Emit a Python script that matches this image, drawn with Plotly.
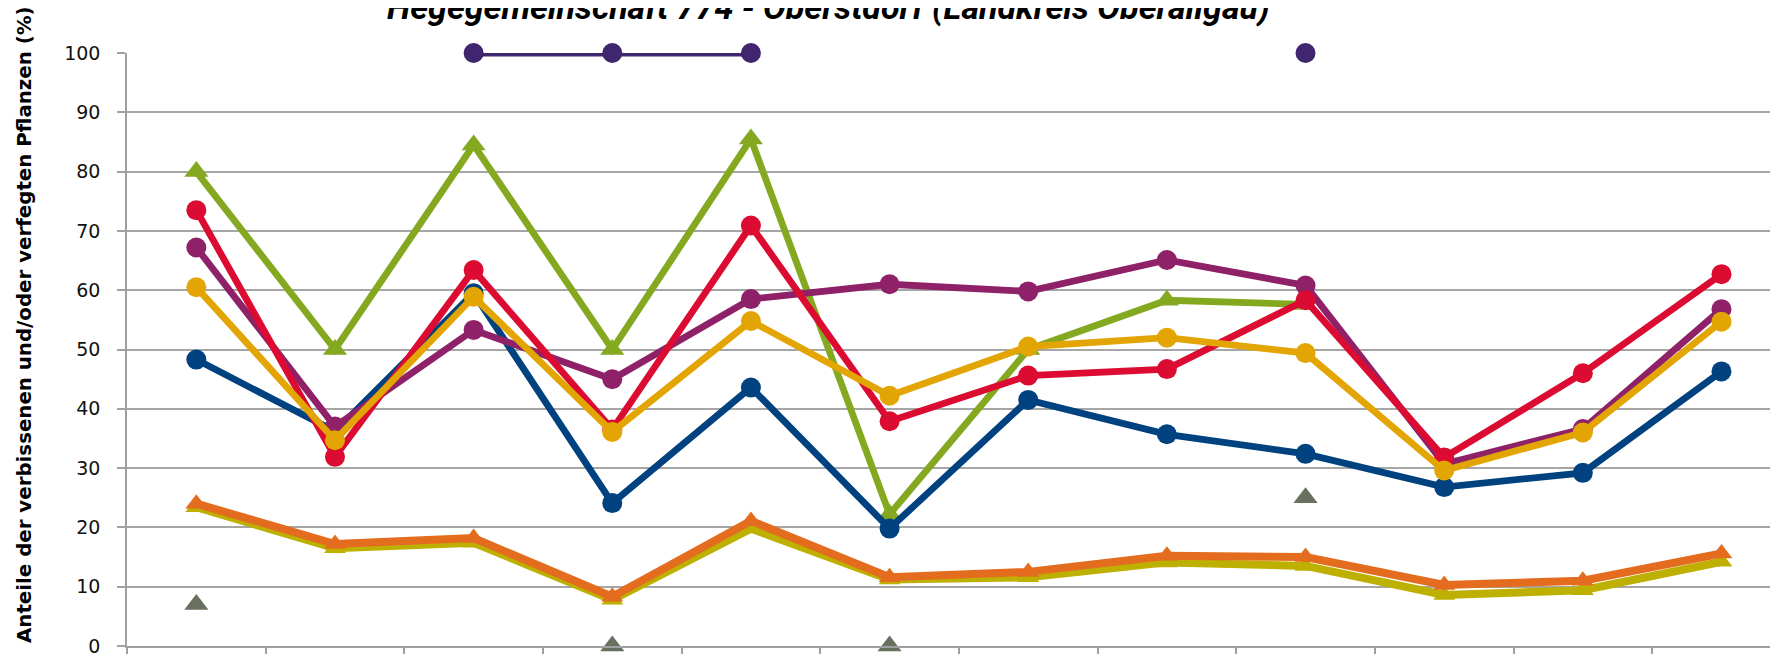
import plotly.graph_objects as go

# Categories (x tick labels are cut off in the reference; survey years assumed)
years = ["1991", "1994", "1997", "2000", "2003", "2006", "2009", "2012", "2015", "2018", "2021", "2024"]

# Series values (%)
s_dark_purple = [None, None, 100, 100, 100, None, None, None, 100, None, None, None]
s_green = [80, 50, 84.5, 50, 85.5, 22.2, 50, 58.3, 57.6, None, None, None]
s_blue = [48.3, 36.2, 59.5, 24.1, 43.6, 19.8, 41.5, 35.7, 32.4, 26.8, 29.2, 46.3]
s_purple = [67.2, 37.0, 53.3, 45.0, 58.5, 61.0, 59.8, 65.1, 60.8, 30.7, 36.6, 56.8]
s_red = [73.5, 31.9, 63.4, 36.5, 70.9, 37.9, 45.6, 46.7, 58.3, 31.8, 46.0, 62.7]
s_gold = [60.5, 34.7, 58.9, 36.1, 54.8, 42.2, 50.5, 52.0, 49.4, 29.6, 36.0, 54.7]
s_olive = [23.4, 16.5, 17.4, 7.8, 19.8, 11.2, 11.6, 14.1, 13.5, 8.6, 9.4, 14.2]
s_orange = [24.0, 17.2, 18.2, 8.3, 21.1, 11.6, 12.5, 15.2, 15.0, 10.3, 11.0, 15.6]
s_gray = [7, None, None, 0, None, 0, None, None, 25, None, None, None]

title_text = "Hegegemeinschaft 774 - Oberstdorf (Landkreis Oberallgäu)"
ytitle_text = "Anteile der verbissenen und/oder verfegten Pflanzen (%)"

# the page body has an 8px margin, so the figure is drawn at (8, 8)
OFF = 8
W, H = 1778 - OFF, 654 - OFF
ML, MR, MT, MB = 127 - OFF, 0, 53 - OFF, 8
cat_w = 138.65
x_end = -0.5 + (W - ML - MR) / cat_w

fig = go.Figure()

def line_trace(name, y, color, symbol, lw, ms, mode="lines+markers"):
    fig.add_trace(go.Scatter(
        x=years, y=y, name=name, mode=mode,
        line=dict(color=color, width=lw),
        marker=dict(color=color, symbol=symbol, size=ms, line=dict(width=0)),
        connectgaps=False, cliponaxis=False, showlegend=False,
    ))

line_trace("Reihe A", s_green, "#84A921", "triangle-up", 6.8, 21)
line_trace("Reihe B", s_blue, "#00427F", "circle", 6.8, 20)
line_trace("Reihe C", s_purple, "#8E2168", "circle", 6.8, 20)
line_trace("Reihe D", s_red, "#DC0B32", "circle", 6.8, 20)
line_trace("Reihe E", s_gold, "#E3A503", "circle", 6.8, 20)
line_trace("Reihe F", s_olive, "#BDB000", "triangle-up", 8, 19)
line_trace("Reihe G", s_orange, "#E46C1F", "triangle-up", 8, 19)
line_trace("Reihe H", s_dark_purple, "#40266E", "circle", 6.8, 20)
line_trace("Reihe I", s_gray, "#68705F", "triangle-up", 0, 21, mode="markers")

fig.update_layout(
    width=W, height=H,
    margin=dict(l=ML, r=MR, t=MT, b=MB, autoexpand=False),
    paper_bgcolor="white", plot_bgcolor="white",
    font=dict(family="DejaVu Sans, Verdana, sans-serif", color="#000000"),
    xaxis=dict(
        type="category", range=[-0.5, x_end], tickson="boundaries",
        ticks="outside", ticklen=10, tickwidth=1.5, tickcolor="#A0A0A0",
        showticklabels=False, showgrid=False, zeroline=False,
        showline=True, linecolor="#A0A0A0", linewidth=1.5,
        automargin=False,
    ),
    yaxis=dict(
        range=[0, 100], tickvals=list(range(0, 101, 10)),
        ticks="outside", ticklen=8, tickwidth=1.5, tickcolor="#A0A0A0",
        ticklabelstandoff=13, ticklabeloverflow="allow",
        tickfont=dict(family="DejaVu Sans, Verdana, sans-serif", size=19, color="#111111"),
        showgrid=True, gridcolor="#A6A6A6", gridwidth=1.5,
        zeroline=False, showline=True, linecolor="#A0A0A0", linewidth=1.5,
        automargin=False,
    ),
)

plot_w = W - ML - MR
plot_h = H - MT - MB

# Chart title (cut off at the top edge, as in the reference)
title_size = 34
baseline_fig = 13
bottom_fig = baseline_fig + 0.212 * title_size + 1
fig.add_annotation(
    text="<b><i>" + title_text + "</i></b>",
    xref="paper", yref="paper",
    x=(828.5 - 127) / plot_w, y=1 + (MT - bottom_fig) / plot_h,
    xanchor="center", yanchor="bottom", showarrow=False,
    font=dict(family="Liberation Sans Narrow, Roboto, sans-serif", size=title_size, color="#000000"),
)

# Y axis title
fig.add_annotation(
    text="<b>" + ytitle_text + "</b>",
    xref="paper", yref="paper",
    x=(25 - 127) / plot_w, y=(646 - 325) / plot_h,
    xanchor="center", yanchor="middle", textangle=-90, showarrow=False,
    font=dict(family="DejaVu Sans, Verdana, sans-serif", size=19.8, color="#000000"),
)

fig.write_html("out.html")
